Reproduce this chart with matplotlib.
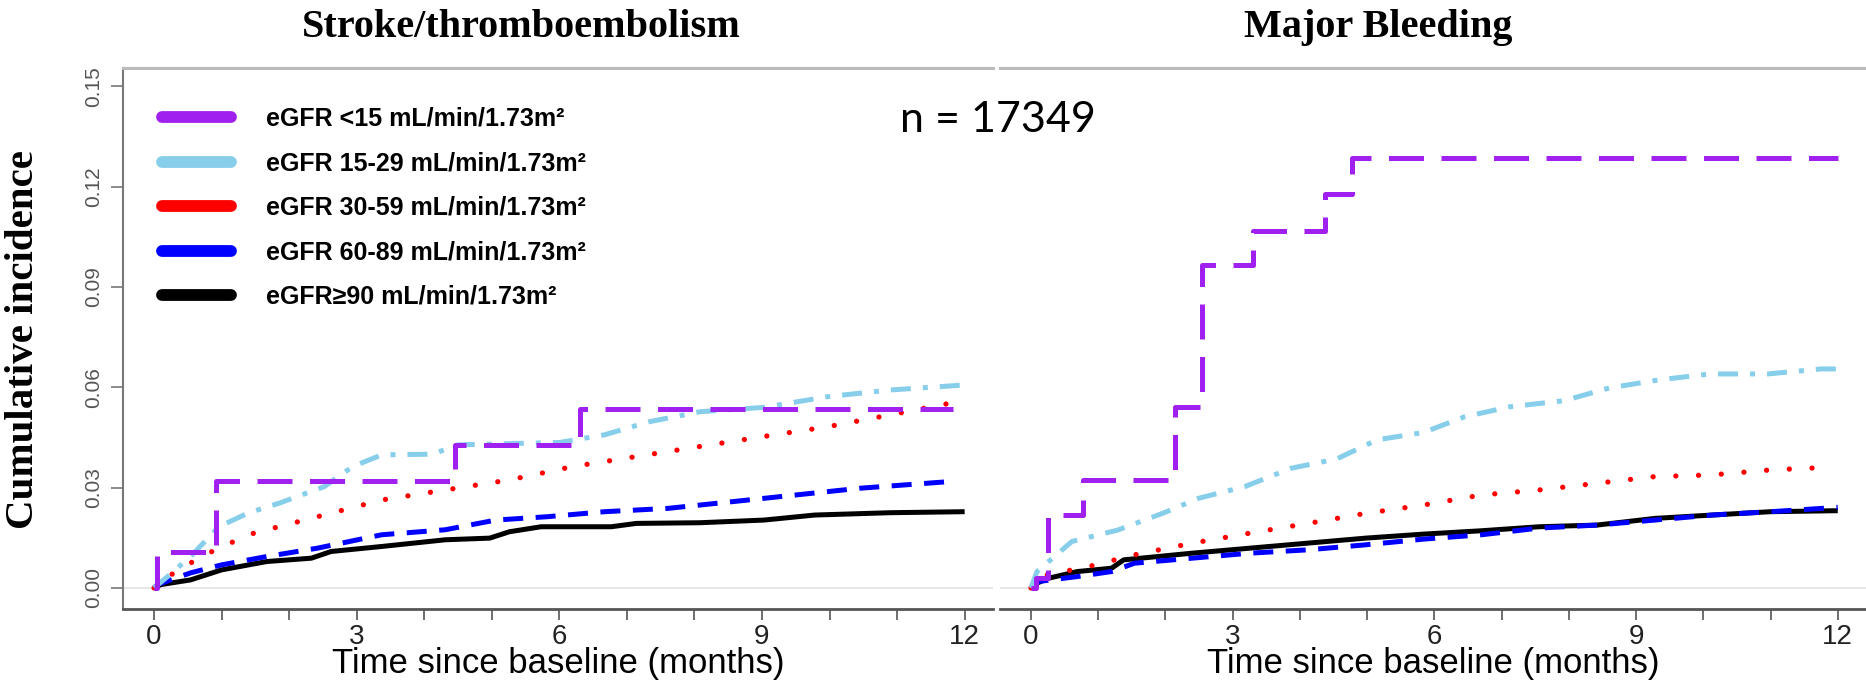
import matplotlib
matplotlib.use("Agg")
import matplotlib.pyplot as plt
from matplotlib.lines import Line2D

# groups / styles
labels = ["eGFR <15 mL/min/1.73m²", "eGFR 15-29 mL/min/1.73m²", "eGFR 30-59 mL/min/1.73m²",
          "eGFR 60-89 mL/min/1.73m²", "eGFR≥90 mL/min/1.73m²"]
colors = ["#A020F0", "#87CEEB", "#FF0000", "#0000FF", "#000000"]

# Stroke/thromboembolism (months, cumulative incidence)
stroke_t_lt15 = [0, 0.05, 0.92, 4.45, 6.3, 11.83]
stroke_v_lt15 = [0, 0.0106, 0.0321, 0.0428, 0.0535, 0.0535]
stroke_t_15 = [0, 0.2, 0.54, 0.96, 1.39, 1.86, 2.52, 2.94, 3.37, 4.12, 4.5, 6.0, 6.67, 7.33, 8.08, 9.03, 9.97, 10.9, 12.0]
stroke_v_15 = [0, 0.0034, 0.0094, 0.0183, 0.0224, 0.0254, 0.0303, 0.0363, 0.0398, 0.040, 0.0428, 0.0435, 0.0458,
               0.0497, 0.0527, 0.054, 0.0572, 0.0592, 0.0607]
stroke_t_30 = [0, 0.35, 0.96, 1.48, 2.42, 3.37, 4.31, 5.26, 6.2, 7.14, 8.08, 9.03, 9.97, 10.91, 11.9]
stroke_v_30 = [0, 0.0054, 0.012, 0.0164, 0.0213, 0.0263, 0.0293, 0.0323, 0.0363, 0.0393, 0.0423, 0.0453, 0.0482,
               0.0518, 0.0557]
stroke_t_60 = [0, 0.05, 0.54, 1.0, 1.67, 2.42, 3.37, 4.31, 5.06, 5.82, 6.67, 7.61, 8.56, 9.5, 10.44, 11.77]
stroke_v_60 = [0, 0.001, 0.0045, 0.0069, 0.0094, 0.0119, 0.0159, 0.0174, 0.0203, 0.0213, 0.0228, 0.0238, 0.0258,
               0.0278, 0.0298, 0.0318]
stroke_t_90 = [0, 0.1, 0.54, 1.0, 1.67, 2.33, 2.62, 3.37, 4.31, 4.97, 5.26, 5.73, 6.77, 7.14, 8.08, 9.03, 9.78, 10.9, 12.0]
stroke_v_90 = [0, 0.001, 0.0024, 0.0054, 0.0079, 0.0089, 0.0109, 0.0124, 0.0144, 0.0149, 0.0168, 0.0183, 0.0183,
               0.0193, 0.0195, 0.0203, 0.0218, 0.0225, 0.0228]

# Major bleeding
bleed_t_lt15 = [0, 0.08, 0.26, 0.77, 2.15, 2.54, 3.31, 4.38, 4.77, 12.0]
bleed_v_lt15 = [0, 0.003, 0.0218, 0.0323, 0.0542, 0.0966, 0.1069, 0.1179, 0.1287, 0.1287]
bleed_t_15 = [0, 0.09, 0.61, 1.29, 1.97, 2.49, 3.18, 3.87, 4.55, 5.15, 5.84, 6.45, 7.13, 7.93, 8.6, 9.33, 10.1, 10.96,
              11.75, 12.0]
bleed_v_15 = [0, 0.0049, 0.0139, 0.0173, 0.0224, 0.0268, 0.0303, 0.0358, 0.0386, 0.0443, 0.0465, 0.0512, 0.0542,
              0.056, 0.0598, 0.0622, 0.064, 0.064, 0.0655, 0.0655]
bleed_t_30 = [0, 0.11, 0.86, 1.54, 2.4, 3.26, 4.12, 4.98, 5.84, 6.7, 7.56, 8.42, 9.28, 10.13, 11.0, 11.9]
bleed_v_30 = [0, 0.0034, 0.0064, 0.0099, 0.0134, 0.0164, 0.0193, 0.0223, 0.0248, 0.0278, 0.0293, 0.0313, 0.0333,
              0.0338, 0.0353, 0.0361]
bleed_t_60 = [0, 0.1, 0.69, 1.2, 1.54, 2.4, 3.26, 4.12, 4.98, 5.84, 6.7, 7.56, 8.42, 9.28, 10.13, 11.0, 12.0]
bleed_v_60 = [0, 0.0019, 0.0034, 0.0049, 0.0074, 0.0089, 0.0104, 0.0114, 0.0129, 0.0146, 0.0159, 0.0179, 0.0188,
              0.0203, 0.0218, 0.0228, 0.0241]
bleed_t_90 = [0, 0.04, 0.26, 0.69, 1.2, 1.38, 2.4, 3.26, 4.12, 4.98, 5.84, 6.7, 7.56, 8.42, 9.28, 10.13, 11.0, 12.0]
bleed_v_90 = [0, 0.001, 0.0029, 0.0049, 0.0059, 0.0084, 0.0104, 0.0119, 0.0134, 0.0149, 0.0161, 0.0171, 0.0183,
              0.0188, 0.0208, 0.0218, 0.0228, 0.0231]

x_ticks = list(range(0, 13))
x_labels = ["0", "", "", "3", "", "", "6", "", "", "9", "", "", "12"]
y_ticks = [0.00, 0.03, 0.06, 0.09, 0.12, 0.15]
y_labels = ["0.00", "0.03", "0.06", "0.09", "0.12", "0.15"]

dashes = [(0, (7, 3.5)), (0, (4, 2.4, 1, 2.4)), (0, (0.01, 4.3)), (0, (4, 2.5)), "-"]
narrow = ["Liberation Sans Narrow", "Liberation Sans", "DejaVu Sans"]
serif = ["Liberation Serif", "DejaVu Serif"]

W, H = 1866, 682
fig = plt.figure(figsize=(W / 100, H / 100), dpi=100)
ax1 = fig.add_axes([123 / W, 73 / H, 870 / W, 541 / H])
ax2 = fig.add_axes([1000 / W, 73 / H, 866 / W, 541 / H])

panels = [
    (ax1, [(stroke_t_lt15, stroke_v_lt15), (stroke_t_15, stroke_v_15), (stroke_t_30, stroke_v_30),
           (stroke_t_60, stroke_v_60), (stroke_t_90, stroke_v_90)]),
    (ax2, [(bleed_t_lt15, bleed_v_lt15), (bleed_t_15, bleed_v_15), (bleed_t_30, bleed_v_30),
           (bleed_t_60, bleed_v_60), (bleed_t_90, bleed_v_90)]),
]

for ax, series in panels:
    ax.axhline(0, color="#e3e3e3", lw=1.2, zorder=0)
    # draw from black up so purple sits on top
    for i in [4, 3, 2, 1, 0]:
        t, v = series[i]
        ax.plot(t, v, color=colors[i], lw=3.8 if i == 2 else 3.6, linestyle=dashes[i],
                drawstyle="steps-post" if i == 0 else "default",
                dash_capstyle="round" if i == 2 else "butt", solid_capstyle="butt")
    ax.set_xlim(-0.46, 12.42)
    ax.set_ylim(-0.0063, 0.1555)
    ax.set_xticks(x_ticks)
    ax.set_xticklabels(x_labels, fontsize=20, family=narrow, color="#222222")
    ax.tick_params(axis="x", length=8, width=1.2, color="#555555", pad=3)
    ax.set_xlabel("Time since baseline (months)", fontsize=25, family=narrow, labelpad=-2)
    ax.spines["right"].set_visible(False)
    ax.spines["top"].set_color("#bbbbbb")
    ax.spines["top"].set_linewidth(2.2)
    ax.spines["bottom"].set_color("#555555")
    ax.spines["bottom"].set_linewidth(2)
    ax.set_facecolor("none")

ax1.set_yticks(y_ticks)
ax1.set_yticklabels(y_labels, rotation=90, va="center", fontsize=15, family="Liberation Sans", color="#555555")
ax1.tick_params(axis="y", length=9, width=1.2, color="#777777", pad=5)
ax1.spines["left"].set_color("#777777")
ax1.spines["left"].set_linewidth(1.5)

ax2.spines["left"].set_visible(False)
ax2.set_yticks([])

handles = [Line2D([], [], color=c, lw=8.5, solid_capstyle="round") for c in colors]
leg = ax1.legend(handles, labels, loc="upper left", bbox_to_anchor=(0.045, 0.928), frameon=False,
                 borderpad=0, borderaxespad=0, handlelength=2.75, handletextpad=1.4, labelspacing=0.82,
                 prop={"family": "Liberation Sans", "weight": "bold", "size": 18})

fig.text(521 / W, 1 - 37 / H, "Stroke/thromboembolism", ha="center", va="baseline",
         fontsize=29, fontweight="bold", family=serif)
fig.text(1378 / W, 1 - 37 / H, "Major Bleeding", ha="center", va="baseline",
         fontsize=29, fontweight="bold", family=serif)
fig.text(24 / W, 1 - 340 / H, "Cumulative incidence", rotation=90, ha="center", va="center",
         fontsize=29.5, fontweight="bold", family=serif)
fig.text(998 / W, 1 - 132 / H, "n = 17349", ha="center", va="baseline", fontsize=31,
         family=["Lato", "DejaVu Sans"])

fig.savefig("out.png", dpi=100)
